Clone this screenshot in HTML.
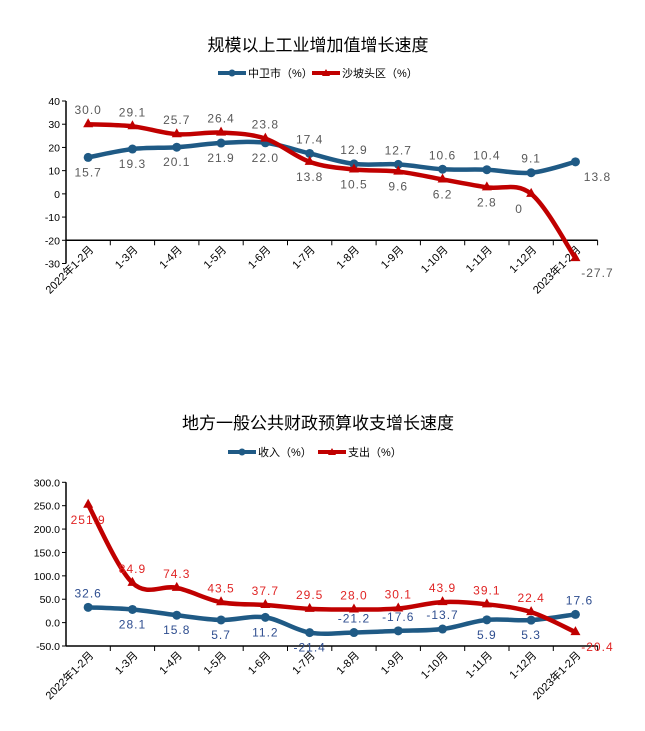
<!DOCTYPE html>
<html><head><meta charset="utf-8"><style>
body{margin:0;background:#fff;}
svg{display:block;font-family:"Liberation Sans","Noto Sans CJK SC",sans-serif;}
</style></head><body>
<svg id="s" width="645" height="731" viewBox="0 0 645 731">
<text x="318" y="51" text-anchor="middle" font-size="17" fill="#000">规模以上工业增加值增长速度</text>
<g>
<line x1="218" y1="73" x2="246" y2="73" stroke="#1f5a85" stroke-width="4"/><circle cx="232" cy="73" r="3.5" fill="#1f5a85"/>
<text x="248" y="77" font-size="11">中卫市（%）</text>
<line x1="312" y1="73" x2="340" y2="73" stroke="#c00000" stroke-width="4"/><path d="M326 69 L330 76 L322 76 Z" fill="#c00000"/>
<text x="342" y="77" font-size="11">沙坡头区（%）</text>
</g>
<text x="318" y="429" text-anchor="middle" font-size="17" fill="#000">地方一般公共财政预算收支增长速度</text>
<g>
<line x1="228" y1="452" x2="256" y2="452" stroke="#1f5a85" stroke-width="4"/><circle cx="242" cy="452" r="3.5" fill="#1f5a85"/>
<text x="258" y="456" font-size="11">收入（%）</text>
<line x1="318" y1="452" x2="346" y2="452" stroke="#c00000" stroke-width="4"/><path d="M332 448 L336 455 L328 455 Z" fill="#c00000"/>
<text x="348" y="456" font-size="11">支出（%）</text>
</g>
<g id="c1"></g>
<g id="c2"></g>
</svg>
<script>
const categories = ["2022年1-2月","1-3月","1-4月","1-5月","1-6月","1-7月","1-8月","1-9月","1-10月","1-11月","1-12月","2023年1-2月"];
const zhongwei = [15.7,19.3,20.1,21.9,22.0,17.4,12.9,12.7,10.6,10.4,9.1,13.8];
const shapotou = [30.0,29.1,25.7,26.4,23.8,13.8,10.5,9.6,6.2,2.8,0,-27.7];
const zhongweiLabels = ["15.7","19.3","20.1","21.9","22.0","17.4","12.9","12.7","10.6","10.4","9.1","13.8"];
const shapotouLabels = ["30.0","29.1","25.7","26.4","23.8","13.8","10.5","9.6","6.2","2.8","0","-27.7"];
const ticks1 = [40,30,20,10,0,-10,-20,-30];
const income = [32.6,28.1,15.8,5.7,11.2,-21.4,-21.2,-17.6,-13.7,5.9,5.3,17.6];
const expense = [251.9,84.9,74.3,43.5,37.7,29.5,28.0,30.1,43.9,39.1,22.4,-20.4];
const ticks2 = [300,250,200,150,100,50,0,-50];

const NS="http://www.w3.org/2000/svg";
function mk(p,t,a,txt){const e=document.createElementNS(NS,t);for(const k in a)e.setAttribute(k,a[k]);if(txt!=null)e.textContent=txt;p.appendChild(e);return e;}
function smooth(pts){let d="M"+pts[0][0]+" "+pts[0][1];for(let i=0;i<pts.length-1;i++){const p0=pts[i-1]||pts[i],p1=pts[i],p2=pts[i+1],p3=pts[i+2]||p2;const t=0.17;
d+=` C${p1[0]+(p2[0]-p0[0])*t} ${p1[1]+(p2[1]-p0[1])*t} ${p2[0]-(p3[0]-p1[0])*t} ${p2[1]-(p3[1]-p1[1])*t} ${p2[0]} ${p2[1]}`;}return d;}
const X0=66,STEP=44.3;
function xs(i){return X0+STEP/2+STEP*i;}

function draw(g,cfg){
  const y=v=>cfg.yTop+(cfg.max-v)/(cfg.max-cfg.min)*(cfg.yBot-cfg.yTop);
  const ax=mk(g,"g",{});
  
  
  mk(ax,"line",{x1:X0,y1:cfg.yTop,x2:X0,y2:cfg.yBot,stroke:"#000","stroke-width":1.5});
  cfg.ticks.forEach(t=>{mk(ax,"line",{x1:X0-4,y1:y(t),x2:X0,y2:y(t),stroke:"#000"});
    const tx=mk(ax,"text",{x:X0-6,y:y(t)+4,"text-anchor":"end","font-size":10.5,fill:"#000"},cfg.fmt(t));
    
    });
  const xa=mk(g,"g",{});
  
  
  const ay=y(cfg.axisAt);
  mk(xa,"line",{x1:X0,y1:ay,x2:X0+STEP*categories.length,y2:ay,stroke:"#000","stroke-width":1.5});
  for(let k=1;k<=categories.length;k++)mk(xa,"line",{x1:X0+STEP*k,y1:ay,x2:X0+STEP*k,y2:ay+5,stroke:"#000"});
  categories.forEach((c,i)=>{const cx=xs(i)+6,cy=ay+10;
    const t=mk(xa,"text",{x:cx,y:cy,"text-anchor":"end","font-size":11,transform:`rotate(-45 ${cx} ${cy})`},c);
    
    });
  cfg.series.forEach(s=>{
    const pts=s.data.map((v,i)=>[xs(i),y(v)]);
    const sg=mk(g,"g",{});
    
    
    mk(sg,"path",{d:smooth(pts),fill:"none",stroke:s.color,"stroke-width":4.5,"stroke-linecap":"round"});
    pts.forEach((p,i)=>{
      let m;
      if(s.tri)m=mk(sg,"path",{d:`M${p[0]} ${p[1]-6} L${p[0]+5} ${p[1]+3} L${p[0]-5} ${p[1]+3} Z`,fill:s.color});
      else m=mk(sg,"circle",{cx:p[0],cy:p[1],r:4.5,fill:s.color});
      
      
      const dy=s.dir[i]<0?-10:19;
      const lt=mk(sg,"text",{x:p[0]+(s.dx?s.dx[i]:0),y:p[1]+dy,"text-anchor":"middle","font-size":12,fill:s.lc,"letter-spacing":"1"},s.labels[i]);
      
      
    });
  });
}
draw(document.getElementById("c1"),{yTop:101,yBot:263.5,max:40,min:-30,axisAt:-20,ticks:ticks1,fmt:t=>String(t),
 series:[
  {name:"zhongwei-line",data:zhongwei,labels:zhongweiLabels,color:"#1f5a85",lc:"#595959",dir:[1,1,1,1,1,-1,-1,-1,-1,-1,-1,1],dx:[0,0,0,0,0,0,0,0,0,0,0,22],tri:false},
  {name:"shapotou-line",data:shapotou,labels:shapotouLabels,color:"#c00000",lc:"#595959",dir:[-1,-1,-1,-1,-1,1,1,1,1,1,1,1],dx:[0,0,0,0,0,0,0,0,0,0,-12,22],tri:true}
 ]});
const incomeLabels=income.map(v=>v.toFixed(1)), expenseLabels=expense.map(v=>v.toFixed(1));
draw(document.getElementById("c2"),{yTop:482.3,yBot:646,max:300,min:-50,axisAt:-50,ticks:ticks2,fmt:t=>t.toFixed(1),
 series:[
  {name:"income-line",data:income,labels:incomeLabels,color:"#1f5a85",lc:"#2e4d8f",dir:[-1,1,1,1,1,1,-1,-1,-1,1,1,-1],dx:[0,0,0,0,0,0,0,0,0,0,0,4],tri:false},
  {name:"expense-line",data:expense,labels:expenseLabels,color:"#c00000",lc:"#e02424",dir:[1,-1,-1,-1,-1,-1,-1,-1,-1,-1,-1,1],dx:[0,0,0,0,0,0,0,0,0,0,0,22],tri:true}
 ]});
</script>
</body></html>
